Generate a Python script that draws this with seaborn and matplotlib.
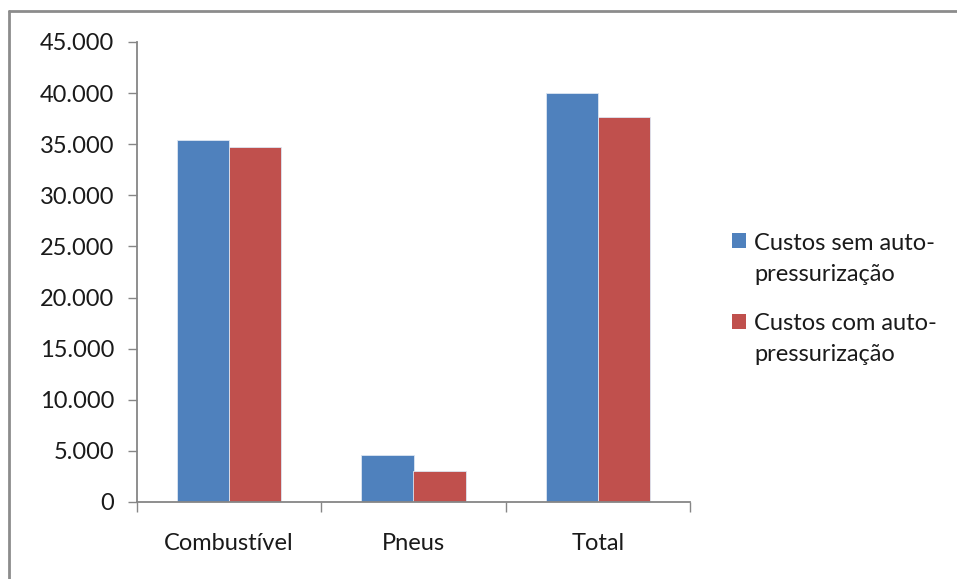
import matplotlib
matplotlib.use("Agg")
import matplotlib.pyplot as plt
import seaborn as sns
import pandas as pd
from matplotlib.patches import Rectangle
from matplotlib.lines import Line2D
from matplotlib.ticker import FuncFormatter, FixedLocator
from matplotlib.legend_handler import HandlerPatch

categories = ["Combustível", "Pneus", "Total"]
series_names = ["Custos sem auto-\npressurização", "Custos com auto-\npressurização"]
sem_auto = [35400, 4600, 40000]
com_auto = [34700, 3000, 37700]
colors = ["#4F81BD", "#C0504D"]

df = pd.DataFrame({
    "categoria": categories * 2,
    "serie": [series_names[0]] * 3 + [series_names[1]] * 3,
    "valor": sem_auto + com_auto,
})

sns.set_theme(style="white")
plt.rcParams["font.family"] = ["Lato", "DejaVu Sans"]
FS = 17

fig = plt.figure(figsize=(9.57, 5.79), dpi=100)
ax = fig.add_axes([137 / 957, 1 - 502 / 579, (690 - 137) / 957, (502 - 42) / 579])

sns.barplot(data=df, x="categoria", y="valor", hue="serie", order=categories,
            hue_order=series_names, palette=colors, width=0.565, gap=0,
            saturation=1, edgecolor="#dce6f2", linewidth=0.6, ax=ax, legend=True)

ax.set_xlim(-0.5, 2.5)
ax.set_ylim(0, 45000)
ax.set_yticks(range(0, 45001, 5000))
ax.yaxis.set_major_formatter(FuncFormatter(lambda v, p: f"{int(v):,}".replace(",", ".")))
ax.set_xlabel("")
ax.set_ylabel("")

gray = "#868686"
for s in ["top", "right"]:
    ax.spines[s].set_visible(False)
for s in ["left", "bottom"]:
    ax.spines[s].set_color(gray)
    ax.spines[s].set_linewidth(1.3)

ax.tick_params(axis="y", which="major", direction="out", length=6.5, width=1.0,
               color=gray, pad=10, labelsize=FS, labelcolor="#1a1a1a", left=True)
ax.tick_params(axis="x", which="major", length=0, pad=22, labelsize=FS, labelcolor="#1a1a1a")
ax.xaxis.set_minor_locator(FixedLocator([-0.5, 0.5, 1.5, 2.5]))
ax.tick_params(axis="x", which="minor", direction="out", length=7, width=1.0,
               color=gray, bottom=True)


class UpperPatch(HandlerPatch):
    def create_artists(self, legend, orig_handle, xdescent, ydescent, width, height,
                       fontsize, trans):
        shift = 0.76 * fontsize
        p = Rectangle((-xdescent, -ydescent + shift), width, height,
                      facecolor=orig_handle.get_facecolor(), edgecolor="none",
                      transform=trans)
        return [p]


handles, labels = ax.get_legend_handles_labels()
leg = ax.legend(handles, labels, loc="center left",
                bbox_to_anchor=(732 / 957, 1 - 299 / 579),
                bbox_transform=fig.transFigure, frameon=False, fontsize=FS,
                handlelength=0.6, handleheight=0.6, handletextpad=0.35,
                labelspacing=1.2, borderaxespad=0, borderpad=0,
                handler_map={Rectangle: UpperPatch()})
for t in leg.get_texts():
    t.set_color("#1a1a1a")
    t.set_linespacing(1.6)

fig.add_artist(Line2D([9 / 957, 9 / 957], [0, 1 - 11 / 579], transform=fig.transFigure,
                      color="#8c8c8c", linewidth=2))
fig.add_artist(Line2D([9 / 957, 1], [1 - 11 / 579, 1 - 11 / 579], transform=fig.transFigure,
                      color="#8c8c8c", linewidth=2))

fig.savefig("out.png", dpi=100)
